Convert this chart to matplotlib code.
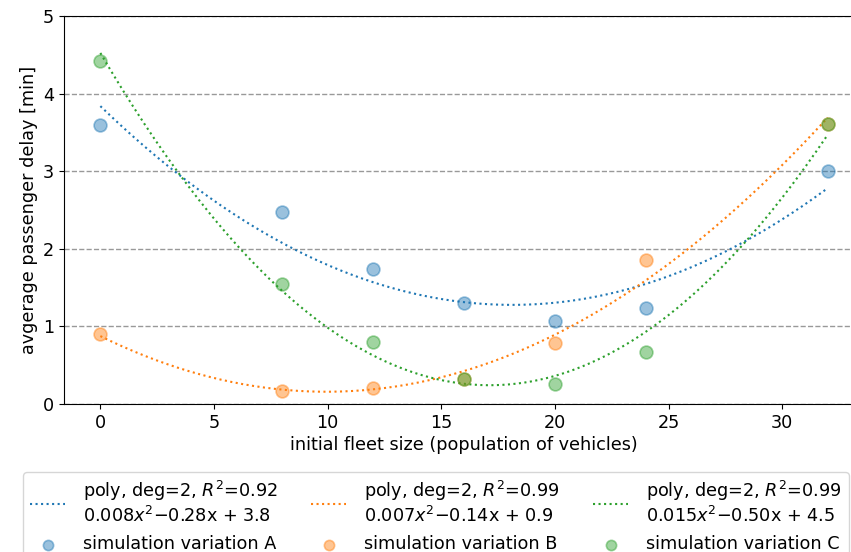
import numpy as np
import matplotlib
matplotlib.use("Agg")
import matplotlib.pyplot as plt

# fleet sizes tested in the simulation
fleet = [0, 8, 12, 16, 20, 24, 32]

# average passenger delay [min] per variation
delay_a = [3.60, 2.48, 1.74, 1.30, 1.07, 1.24, 3.00]
delay_b = [0.90, 0.17, 0.21, 0.32, 0.79, 1.85, 3.61]
delay_c = [4.42, 1.55, 0.80, 0.32, 0.26, 0.67, 3.61]

names = ["A", "B", "C"]
colors = ["tab:blue", "tab:orange", "tab:green"]

plt.rcParams['font.family'] = ['DejaVu Sans']
plt.rcParams['font.size'] = 12.7

fig = plt.figure(figsize=(8.51, 5.52), dpi=100)
ax = fig.add_axes([64 / 851, 1 - 404 / 552, 800 / 851, (404 - 16) / 552])

x = np.array(fleet, dtype=float)
xs = np.linspace(0, 32, 200)

handles = []
for name, col, y in zip(names, colors, [delay_a, delay_b, delay_c]):
    y = np.array(y)
    p = np.polyfit(x, y, 2)
    fit = np.polyval(p, x)
    r2 = 1 - np.sum((y - fit) ** 2) / np.sum((y - y.mean()) ** 2)
    lab = ("poly, deg=2, $R^2$=%.2f\n%.3f$x^2$$-$%.2fx + %.1f"
           % (r2, p[0], -p[1], p[2]))
    ln, = ax.plot(xs, np.polyval(p, xs), ':', color=col, lw=1.5, label=lab)
    sc = ax.scatter(x, y, s=85, color=col, alpha=0.45, linewidths=1.2,
                    label="simulation variation " + name, zorder=3)
    handles += [ln, sc]

ax.set_xlim(-1.6, 33.6)
ax.set_ylim(0, 5)
ax.set_xticks([0, 5, 10, 15, 20, 25, 30])
ax.set_yticks([0, 1, 2, 3, 4, 5])
ax.yaxis.grid(True, linestyle='--', color='gray', alpha=0.8, lw=1)
ax.set_axisbelow(True)
ax.set_xlabel("initial fleet size (population of vehicles)", labelpad=3)
ax.set_ylabel("avgerage passenger delay [min]")

fig.legend(handles=handles, loc='upper left', ncol=3,
           bbox_to_anchor=(23 / 851, 1 - 472 / 552), fontsize=12.7,
           handlelength=2.0, handletextpad=1.0, columnspacing=1.9,
           borderaxespad=0, markerscale=0.8,
           frameon=True, edgecolor='#cccccc', fancybox=True)

fig.savefig("out.png", dpi=100)
